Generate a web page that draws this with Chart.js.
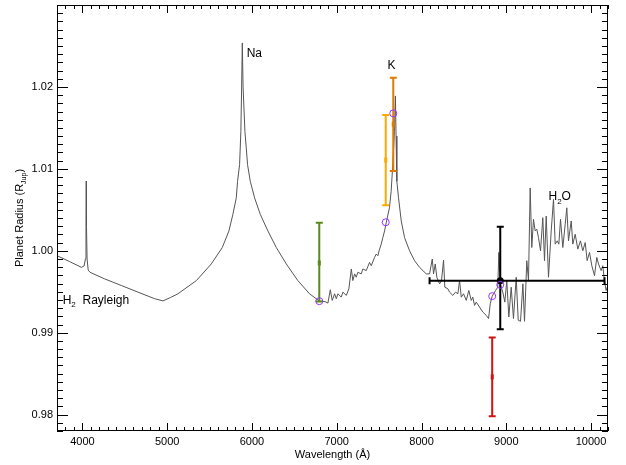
<!DOCTYPE html>
<html>
<head>
<meta charset="utf-8">
<script src="https://cdn.jsdelivr.net/npm/chart.js@4"></script>
<style>
  html, body { margin: 0; padding: 0; background: #fff; }
</style>
</head>
<body>
<canvas id="c" width="626" height="465"></canvas>
<script>
// model spectrum (wavelength in A, radius in R_Jup)
const modelWave = [
  3700, 3850, 3988, 4020, 4035, 4042, 4045, 4048, 4055, 4068, 4090, 4262, 4459, 4655, 4852, 4950, 5040,
  5127, 5344, 5520, 5650, 5728, 5775, 5815, 5830, 5854, 5869, 5878, 5886, 5895, 5917, 5933, 5948, 5980,
  6031, 6098, 6188, 6287, 6405, 6541, 6679, 6797, 6860, 6896, 6924, 6947, 6975, 6995, 7014, 7053, 7073,
  7113, 7143, 7172, 7190, 7211, 7230, 7249, 7289, 7308, 7348, 7387, 7407, 7446, 7466, 7485, 7505, 7525,
  7544, 7564, 7584, 7622, 7642, 7661, 7681, 7692, 7700, 7709, 7729, 7761, 7800, 7859, 7918, 7977, 8056,
  8095, 8127, 8142, 8162, 8181, 8213, 8236, 8260, 8275, 8311, 8331, 8370, 8401, 8429, 8449, 8469, 8496,
  8528, 8558, 8587, 8605, 8626, 8646, 8684, 8723, 8763, 8791, 8811, 8834, 8873, 8900, 8912, 8929, 8959,
  8983, 9006, 9030, 9058, 9085, 9117, 9141, 9168, 9196, 9215, 9242, 9262, 9282, 9301, 9321, 9341, 9360,
  9380, 9404, 9431, 9451, 9471, 9498, 9530, 9557, 9577, 9601, 9620, 9640, 9667, 9695, 9714, 9734, 9766,
  9785, 9813, 9844, 9875, 9903, 9931, 9954, 9982, 10009, 10041, 10068, 10088, 10119, 10138, 10158, 10178, 10200
];
const modelRadius = [
  0.9994, 0.99867, 0.99798, 0.99815, 0.9990, 1.0030, 1.0085, 1.0030, 0.9990, 0.99765, 0.99737, 0.99657, 0.99576, 0.99495, 0.99415, 0.99388, 0.9943,
  0.99475, 0.99636, 0.99839, 1.0004, 1.00242, 1.00445, 1.00646, 1.00848, 1.01051, 1.01455, 1.0200, 1.02537, 1.0200, 1.01455, 1.01252, 1.01051, 1.00848,
  1.00646, 1.00445, 1.00242, 1.0004, 0.99839, 0.99636, 0.99475, 0.99385, 0.9938, 0.99361, 0.99524, 0.99394, 0.99475, 0.99415, 0.99475, 0.99434, 0.99495,
  0.99455, 0.99536, 0.99778, 0.99636, 0.99718, 0.99677, 0.99737, 0.99718, 0.99778, 0.99758, 0.99858, 0.99818, 0.99919, 0.9996, 0.99939, 1.0002, 1.00081,
  1.00161, 1.00242, 1.00343, 1.00525, 1.00727, 1.01051, 1.01455, 1.0189, 1.0140, 1.00848, 1.00646, 1.00364, 1.00161, 1.0000, 0.99879, 0.99798, 0.99718,
  0.99718, 0.99899, 0.99718, 0.99839, 0.99676, 0.99596, 0.99636, 0.99887, 0.99555, 0.99536, 0.99495, 0.99455, 0.99495, 0.99475, 0.99636, 0.99434, 0.99475,
  0.99394, 0.99515, 0.99394, 0.99434, 0.99333, 0.99373, 0.99313, 0.99252, 0.99212, 0.99172, 0.99354, 0.99446, 0.99515, 0.99555, 0.9998, 0.99596, 0.99495,
  0.99373, 0.99636, 0.99192, 0.99555, 0.99172, 0.99676, 0.99152, 0.99139, 0.99596, 0.99139, 0.99879, 0.99636, 1.00767, 1.0004, 1.00384, 1.00242, 1.00263,
  1.00161, 1.0000, 1.00404, 0.99879, 1.00424, 0.99676, 1.00242, 1.00627, 1.00081, 1.00121, 1.00081, 1.00384, 1.0004, 1.00324, 1.00525, 1.00121, 1.00364,
  1.00081, 1.00202, 1.0002, 1.00121, 1.0000, 1.00101, 0.99879, 0.9998, 0.99818, 0.99697, 0.99919, 0.99839, 0.99758, 0.99818, 0.99636, 0.99515, 0.99576
];

// measured points
const barWave = [6794, 7578, 7667, 8834, 8929];
const barRadius = [0.99851, 1.01107, 1.01543, 0.98461, 0.99633];
const barErrUp = [0.0049, 0.0055, 0.0057, 0.0048, 0.0066];
const barErrDown = [0.0047, 0.0055, 0.0057, 0.0048, 0.0059];
const barWaveErrDown = [0, 0, 0, 0, 834];
const barWaveErrUp = [0, 0, 0, 0, 1230];
const barColors = ["#5b8a1c", "#ffa800", "#e07a00", "#cc1515", "#000000"];
const modelAtBars = [0.99385, 1.00348, 1.01677, 0.99446, 0.99584];

const labelText = ["Na", "K", "H_2O", "H_2  Rayleigh"];
const labelWave = [5937, 7647, 9498, 3767];
const labelRadius = [1.0240, 1.02255, 1.00655, 0.99394];
const labelAlign = ["left", "center", "left", "left"];

const xTickValues = [4000, 5000, 6000, 7000, 8000, 9000, 10000];
const yTickValues = [0.98, 0.99, 1.00, 1.01, 1.02];

const FONT = "'Liberation Sans', Arial, sans-serif";

function richParts(str) {
  const out = [];
  let i = 0;
  while (i < str.length) {
    if (str[i] === "_") {
      if (str[i + 1] === "{") {
        const j = str.indexOf("}", i);
        out.push({ t: str.slice(i + 2, j), sub: true });
        i = j + 1;
      } else {
        out.push({ t: str[i + 1], sub: true });
        i += 2;
      }
    } else {
      let j = i;
      while (j < str.length && str[j] !== "_") j++;
      out.push({ t: str.slice(i, j), sub: false });
      i = j;
    }
  }
  return out;
}

function drawRich(ctx, str, x, y, size, align) {
  const parts = richParts(str);
  const subSize = Math.round(size * 0.68);
  let total = 0;
  parts.forEach(p => {
    ctx.font = (p.sub ? subSize : size) + "px " + FONT;
    p.w = ctx.measureText(p.t).width;
    total += p.w;
  });
  let cx = align === "center" ? x - total / 2 : x;
  ctx.textBaseline = "middle";
  ctx.textAlign = "left";
  parts.forEach(p => {
    ctx.font = (p.sub ? subSize : size) + "px " + FONT;
    ctx.fillText(p.t, cx, p.sub ? y + size * 0.35 : y);
    cx += p.w;
  });
}

const decor = {
  id: "decor",
  afterDatasetDraw(chart, args) {
    if (args.index !== 0) return;
    const { ctx, scales: { x, y } } = chart;
    ctx.save();
    barWave.forEach((w, i) => {
      const px = x.getPixelForValue(w);
      const pc = y.getPixelForValue(barRadius[i]);
      const pt = y.getPixelForValue(barRadius[i] + barErrUp[i]);
      const pb = y.getPixelForValue(barRadius[i] - barErrDown[i]);
      ctx.strokeStyle = barColors[i];
      ctx.fillStyle = barColors[i];
      ctx.lineWidth = 2;
      ctx.beginPath();
      ctx.moveTo(px, pt); ctx.lineTo(px, pb);
      ctx.moveTo(px - 3.5, pt); ctx.lineTo(px + 3.5, pt);
      ctx.moveTo(px - 3.5, pb); ctx.lineTo(px + 3.5, pb);
      ctx.stroke();
      if (barWaveErrUp[i] > 0) {
        const pl = x.getPixelForValue(w - barWaveErrDown[i]);
        const pr = x.getPixelForValue(w + barWaveErrUp[i]);
        ctx.beginPath();
        ctx.moveTo(pl, pc); ctx.lineTo(pr, pc);
        ctx.moveTo(pl, pc - 3.5); ctx.lineTo(pl, pc + 3.5);
        ctx.moveTo(pr, pc - 3.5); ctx.lineTo(pr, pc + 3.5);
        ctx.stroke();
        ctx.beginPath();
        ctx.arc(px, pc, 3.5, 0, Math.PI * 2);
        ctx.fill();
      } else {
        ctx.fillRect(px - 1.5, pc - 2.5, 3, 5);
      }
    });
    ctx.restore();
  },
  afterDraw(chart) {
    const { ctx, chartArea: a, scales: { x, y } } = chart;
    ctx.save();
    ctx.strokeStyle = "#000";
    ctx.lineWidth = 1;
    ctx.strokeRect(a.left + 0.5, a.top + 0.5, a.right - a.left - 1, a.bottom - a.top - 1);
    ctx.beginPath();
    for (let v = Math.ceil(x.min / 100) * 100; v <= x.max; v += 100) {
      const p = Math.round(x.getPixelForValue(v)) + 0.5;
      const len = v % 1000 === 0 ? 8 : 4;
      ctx.moveTo(p, a.bottom); ctx.lineTo(p, a.bottom - len);
      ctx.moveTo(p, a.top); ctx.lineTo(p, a.top + len);
    }
    for (let k = Math.ceil(y.min * 1000); k <= y.max * 1000 + 1e-6; k++) {
      const p = Math.round(y.getPixelForValue(k / 1000)) + 0.5;
      const len = k % 10 === 0 ? 11 : 6;
      ctx.moveTo(a.left, p); ctx.lineTo(a.left + len, p);
      ctx.moveTo(a.right, p); ctx.lineTo(a.right - len, p);
    }
    ctx.stroke();

    ctx.fillStyle = "#000";
    labelText.forEach((t, i) => {
      drawRich(ctx, t, x.getPixelForValue(labelWave[i]), y.getPixelForValue(labelRadius[i]), 12, labelAlign[i]);
    });

    ctx.translate(20, (a.top + a.bottom) / 2);
    ctx.rotate(-Math.PI / 2);
    drawRich(ctx, "Planet Radius (R_{Jup})", 0, 0, 11, "center");
    ctx.restore();
  }
};

new Chart(document.getElementById("c"), {
  type: "scatter",
  data: {
    datasets: [
      {
        label: "model",
        data: modelWave.map((w, i) => ({ x: w, y: modelRadius[i] })),
        showLine: true,
        borderColor: "#555555",
        borderWidth: 1,
        pointRadius: 0,
        tension: 0,
        order: 2
      },
      {
        label: "binned model",
        data: barWave.map((w, i) => ({ x: w, y: modelAtBars[i] })),
        pointStyle: "circle",
        pointRadius: 3.5,
        borderColor: "#9933ff",
        backgroundColor: "rgba(0,0,0,0)",
        borderWidth: 1,
        order: 1
      }
    ]
  },
  options: {
    responsive: false,
    animation: false,
    layout: { padding: { top: -3, right: 18, left: 0, bottom: 0 } },
    plugins: { legend: { display: false }, tooltip: { enabled: false } },
    scales: {
      x: {
        type: "linear",
        min: 3700,
        max: 10200,
        afterBuildTicks: s => { s.ticks = xTickValues.map(v => ({ value: v })); },
        afterFit: s => { s.height = 34; s.paddingLeft = 0; s.paddingRight = 0; },
        grid: { display: false, drawTicks: false },
        border: { display: false },
        ticks: { color: "#000", padding: 4, maxRotation: 0, font: { family: FONT, size: 11 }, callback: v => String(v) },
        title: { display: true, text: "Wavelength (Å)", color: "#000", font: { family: FONT, size: 11 }, padding: { top: 0, bottom: 3 } }
      },
      y: {
        type: "linear",
        min: 0.978,
        max: 1.030,
        afterBuildTicks: s => { s.ticks = yTickValues.map(v => ({ value: v })); },
        afterFit: s => { s.width = 57; s.paddingTop = 0; s.paddingBottom = 0; },
        grid: { display: false, drawTicks: false },
        border: { display: false },
        ticks: { color: "#000", padding: 4, font: { family: FONT, size: 11 }, callback: v => v.toFixed(2) }
      }
    }
  },
  plugins: [decor]
});
</script>
</body>
</html>
